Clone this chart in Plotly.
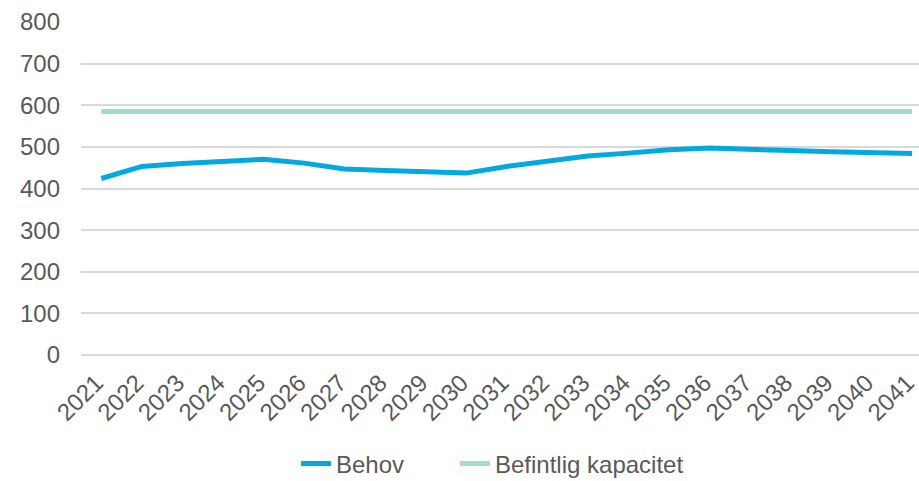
import plotly.graph_objects as go

years = [str(y) for y in range(2021, 2042)]
behov = [424, 453, 460, 465, 470, 461, 447, 443, 439, 437, 453, 466, 478, 485, 493, 497, 493, 491, 488, 487, 484]
kapacitet = [585] * 21
y_ticks = [0, 100, 200, 300, 400, 500, 600, 700, 800]

font_family = "Liberation Sans, Arial, sans-serif"
text_color = "#595959"

fig = go.Figure()
fig.add_trace(go.Scatter(x=years, y=behov, mode="lines", name="Behov", legend="legend",
                         line=dict(color="#00A9DF", width=5)))
fig.add_trace(go.Scatter(x=years, y=kapacitet, mode="lines", name="Befintlig kapacitet",
                         legend="legend2", line=dict(color="#A0DBD7", width=5)))

leg_common = dict(orientation="h", xref="container", yref="container", xanchor="left",
                  y=1 - 464 / 481, yanchor="middle",
                  font=dict(size=24, color=text_color), bgcolor="rgba(0,0,0,0)")

fig.update_layout(
    width=919, height=481,
    margin=dict(l=81, r=0, t=22, b=126),
    paper_bgcolor="white", plot_bgcolor="white",
    font=dict(family=font_family, size=24, color=text_color),
    showlegend=True,
    legend=dict(x=296 / 919, **leg_common),
    legend2=dict(x=455 / 919, **leg_common),
    xaxis=dict(type="category", range=[-0.5, 20.17], tickangle=-45, automargin=False,
               showgrid=False, showline=False, zeroline=False, ticks="",
               ticklabelstandoff=8, ticklabelshift=-5,
               tickfont=dict(size=24, color=text_color)),
    yaxis=dict(range=[0, 800], tickvals=y_ticks, showgrid=True, gridcolor="#D9D9D9",
               gridwidth=1.5, zeroline=True, zerolinecolor="#D9D9D9", zerolinewidth=1.5,
               showline=False, ticks="", ticklabelstandoff=20, automargin=False,
               tickfont=dict(size=24, color=text_color)),
)

fig.write_html("out.html", config={"displayModeBar": False},
               post_script="document.body.style.margin='0';document.body.style.padding='0';")
